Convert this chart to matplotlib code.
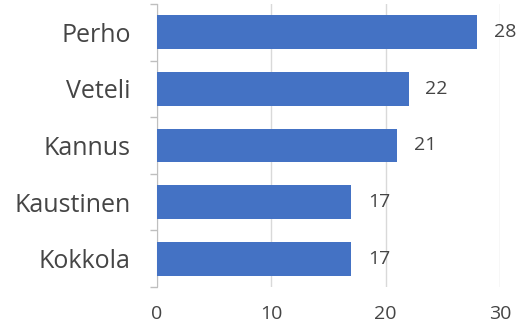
import matplotlib
matplotlib.use("Agg")
from matplotlib import pyplot as plt

towns = ['Perho', 'Veteli', 'Kannus', 'Kaustinen', 'Kokkola']
counts = [28, 22, 21, 17, 17]
x_ticks = [0, 10, 20, 30]

bar_color = '#4472C4'
grid_color = '#D9D9D9'
text_color = '#454545'

plt.rcParams['font.family'] = ['Open Sans', 'DejaVu Sans']

fig = plt.figure(figsize=(5.16, 3.25), dpi=100)
ax = fig.add_axes([157 / 516, 1 - 287 / 325, 343 / 516, 283 / 325])

y = range(len(towns))
ax.barh(y, counts, height=0.6, color=bar_color, zorder=3)

for i, v in enumerate(counts):
    ax.annotate(str(v), (v, i), xytext=(12, 0), textcoords='offset points',
                ha='left', va='center', fontsize=14, color=text_color)

ax.set_xlim(0, 30)
ax.set_ylim(len(towns) - 0.5, -0.5)
ax.set_xticks(x_ticks)
ax.set_xticklabels([str(t) for t in x_ticks])
ax.tick_params(axis='x', length=0, pad=13, labelsize=14, labelcolor=text_color)

# category axis: labels centred on bars, ticks at the boundaries
ax.set_yticks(list(y))
ax.set_yticklabels(towns)
ax.set_yticks([i - 0.5 for i in range(len(towns) + 1)], minor=True)
ax.tick_params(axis='y', which='major', length=0, pad=19, labelsize=18,
               labelcolor=text_color)
ax.tick_params(axis='y', which='minor', length=5, width=1, color='#BFBFBF')

ax.grid(axis='x', color=grid_color, linewidth=1, zorder=0)
for side in ['top', 'right', 'bottom']:
    ax.spines[side].set_visible(False)
ax.spines['left'].set_color('#BFBFBF')

fig.savefig('out.png', dpi=100)
